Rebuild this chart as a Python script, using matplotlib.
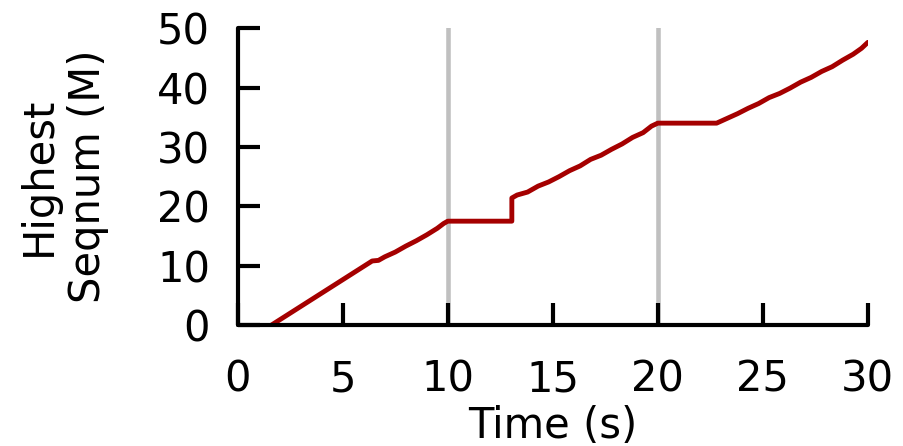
import numpy as np
import matplotlib.pyplot as plt
import matplotlib as mpl

mpl.rcParams.update({
    "font.family": "DejaVu Sans",
    "font.size": 30,
})

# time (s) vs highest seqnum (millions)
time_s = [1.6, 6.4, 6.7, 7.0, 7.5, 8.0, 8.5, 9.0, 9.5, 9.8, 10.0,
          13.05, 13.05, 13.3, 13.8, 14.3, 14.8, 15.3, 15.8, 16.3, 16.8,
          17.3, 17.8, 18.3, 18.8, 19.3, 19.7, 20.0,
          22.8, 23.3, 23.8, 24.3, 24.8, 25.3, 25.8, 26.3, 26.8, 27.3,
          27.8, 28.3, 28.8, 29.3, 29.7, 30.0]
seqnum_m = [0.0, 10.8, 10.9, 11.5, 12.3, 13.3, 14.2, 15.2, 16.3, 17.1, 17.5,
            17.5, 21.4, 21.9, 22.4, 23.4, 24.1, 25.0, 26.0, 26.8, 27.9,
            28.6, 29.6, 30.5, 31.6, 32.4, 33.5, 34.0,
            34.0, 34.8, 35.6, 36.5, 37.3, 38.3, 39.0, 39.9, 40.9, 41.7,
            42.7, 43.5, 44.6, 45.6, 46.6, 47.6]
markers_s = [10, 20]

fig = plt.figure(figsize=(9.04, 4.46), dpi=100)
ax = fig.add_axes([0.263, 0.271, 0.697, 0.666])

for m in markers_s:
    ax.axvline(m, color="#c0c0c0", linewidth=3.3, zorder=1)

ax.plot(time_s, seqnum_m, color="#a50000", linewidth=3.5,
        solid_capstyle="round", solid_joinstyle="round", zorder=2)

ax.set_xlim(0, 30)
ax.set_ylim(0, 50)
ax.set_xticks(np.arange(0, 31, 5))
ax.set_yticks(np.arange(0, 51, 10))

for side in ["top", "right"]:
    ax.spines[side].set_visible(False)
for side in ["left", "bottom"]:
    ax.spines[side].set_linewidth(3)
    ax.spines[side].set_capstyle("round")

ax.tick_params(direction="in", length=16, width=3, pad=24, labelsize=30)
ax.tick_params(axis="y", pad=20)

ax.set_xlabel("Time (s)", fontsize=30)
ax.xaxis.set_label_coords(0.5, -0.27)
ax.xaxis.label.set_va("top")
ax.set_ylabel("Highest\nSeqnum (M)", fontsize=30, linespacing=1.2)
ax.yaxis.set_label_coords(-0.205, 0.5)

fig.savefig("out.png", dpi=100)
